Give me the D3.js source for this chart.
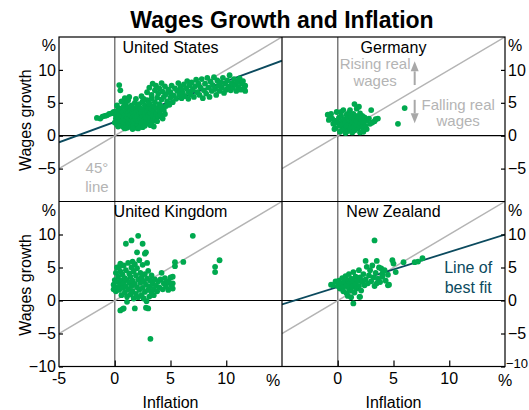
<!DOCTYPE html>
<html>
<head>
<meta charset="utf-8">
<script src="https://cdn.jsdelivr.net/npm/d3@7"></script>
<style>
  body { margin: 0; background: #fff; }
  svg { display: block; font-family: "Liberation Sans", Arial, Helvetica, sans-serif; }
</style>
</head>
<body>
<svg id="chart" width="529" height="410"></svg>
<script>
// ---- Data ----------------------------------------------------------------
const panelNames = ["United States", "Germany", "United Kingdom", "New Zealand"];

// [inflation %, wages growth %]
const usPoints = [
  [-1.6,2.7],[-1.3,2.6],[-1.1,2.9],[-0.9,3.0],[-0.7,3.1],[-0.5,3.3],[-0.3,3.4],[-0.1,3.6],[0.1,3.7],[0.3,3.9],
  [0.4,7.7],[0.5,6.9],[0.9,5.7],[1.2,5.4],
  [0.0,2.0],[0.1,2.6],[0.1,3.1],[0.2,1.7],[0.3,2.3],[0.3,2.9],[0.4,3.4],[0.5,1.9],[0.5,2.6],[0.5,4.1],
  [0.6,1.5],[0.6,3.0],[0.7,2.2],[0.7,3.6],[0.8,1.3],[0.8,2.7],[0.8,4.4],[0.9,2.0],[0.9,3.2],[1.0,1.6],[1.0,2.5],[1.0,3.8],[1.0,4.9],
  [1.1,1.2],[1.1,2.9],[1.2,2.1],[1.2,3.4],[1.2,4.3],[1.3,1.5],[1.3,2.6],[1.4,3.9],[1.4,1.9],[1.4,3.1],[1.5,2.4],[1.5,4.6],[1.5,1.3],
  [1.6,2.8],[1.6,3.6],[1.7,1.6],[1.7,2.2],[1.7,4.1],[1.8,3.0],[1.8,1.2],[1.8,5.0],[1.9,2.5],[1.9,3.5],[2.0,1.8],[2.0,4.4],[2.0,2.9],
  [2.1,2.2],[2.1,3.8],[2.2,1.4],[2.2,3.2],[2.2,4.8],[2.3,2.6],[2.3,4.1],[2.4,1.9],[2.4,3.5],[2.5,2.9],[2.5,5.2],[2.5,1.3],
  [2.6,2.3],[2.6,4.0],[2.7,3.3],[2.7,4.6],[2.8,1.8],[2.8,2.8],[2.9,3.8],[2.9,5.4],[3.0,2.4],[3.0,4.3],[3.0,3.1],
  [3.1,1.9],[3.1,4.9],[3.2,3.5],[3.2,2.7],[3.3,4.1],[3.3,5.6],[3.4,3.0],[3.4,2.2],[3.5,1.4],[3.5,4.5],[3.5,3.7],
  [3.6,2.6],[3.6,5.1],[3.7,3.3],[3.8,4.2],[3.8,5.8],[3.9,2.9],[4.0,3.8],[4.0,4.8],[4.1,3.2],[4.2,4.4],[4.2,5.5],
  [0.3,1.4],[0.9,1.1],[1.6,1.0],[2.1,1.1],[2.7,1.5],[3.2,1.6],[3.8,2.2],[4.3,2.6],[4.5,3.3],[0.2,4.6],[0.6,5.2],
  [1.9,5.6],[2.4,6.0],[1.3,5.9],[2.6,5.6],
  [2.9,6.6],[3.1,7.3],[3.3,6.2],[3.4,7.9],[3.6,6.9],[3.7,7.6],[3.9,6.4],[4.0,7.2],[4.2,8.0],[4.3,6.7],[4.5,7.5],
  [4.4,3.9],[4.4,5.9],[4.6,4.5],[4.6,6.3],[4.7,5.2],[4.8,7.0],[4.9,4.7],[5.0,5.8],[5.0,6.6],[5.1,7.6],[5.2,5.1],[5.3,6.1],
  [5.4,7.2],[5.5,5.6],[5.6,6.8],[5.7,8.0],[5.8,6.2],[5.9,7.4],[6.0,5.7],[6.0,7.0],
  [6.1,6.5],[6.2,7.8],[6.3,6.0],[6.4,7.2],[6.5,8.3],[6.6,6.7],[6.6,5.6],[6.7,7.6],[6.8,6.3],[6.9,8.1],[7.0,7.0],
  [7.1,5.9],[7.2,7.5],[7.3,8.5],[7.4,6.6],[7.5,7.9],[7.6,6.2],[7.7,7.3],[7.8,8.6],[7.9,5.7],[8.0,6.9],
  [8.1,7.9],[8.2,6.4],[8.3,8.8],[8.4,7.3],[8.5,5.9],[8.6,8.2],[8.7,6.8],[8.8,7.7],[8.9,8.9],[9.0,7.1],
  [9.1,6.2],[9.2,8.4],[9.3,7.6],[9.4,6.8],[9.5,8.1],[9.6,7.3],[9.7,8.8],[9.8,6.5],[9.9,7.9],[10.0,7.0],
  [10.1,8.4],[10.2,7.5],[10.3,9.2],[10.4,6.9],[10.5,8.0],[10.6,7.3],[10.7,8.6],[10.8,7.8],[10.9,6.8],
  [11.0,8.2],[11.1,7.4],[11.2,8.7],[11.3,7.0],[11.4,7.9],[11.5,8.3],[11.6,7.2],[11.7,7.6],[11.7,6.8]
];

const dePoints = [
  [-0.9,3.2],[-0.7,2.9],[-0.6,3.3],[-0.5,2.6],[-0.4,1.8],[-0.3,2.3],[-0.2,1.2],[-0.1,3.6],[0.0,2.0],[0.1,2.7],
  [0.2,0.6],[0.2,1.5],[0.3,3.0],[0.4,2.2],[0.4,0.9],[0.5,1.7],[0.5,3.9],[0.6,2.5],[0.6,1.1],[0.7,0.4],
  [0.7,2.0],[0.8,3.2],[0.8,1.4],[0.9,2.7],[0.9,0.7],[1.0,1.9],[1.0,3.5],[1.1,2.3],[1.1,1.0],[1.2,2.9],
  [1.2,1.6],[1.3,0.5],[1.3,2.1],[1.4,3.3],[1.4,1.3],[1.5,4.8],[1.5,2.5],[1.5,0.8],[1.6,1.8],[1.6,3.0],
  [1.7,2.2],[1.7,4.1],[1.8,1.1],[1.8,2.7],[1.9,4.4],[1.9,1.6],[2.0,2.0],[2.0,0.5],[2.0,3.4],[2.1,2.5],
  [2.2,1.3],[2.2,3.0],[2.3,0.6],[2.3,2.0],[2.4,2.8],[2.5,1.5],[2.6,2.3],[2.8,2.6],[3.0,3.9],[3.1,2.0],
  [3.4,2.5],[3.6,2.6],[5.4,1.8],[6.0,4.2],
  [-0.3,1.0],[0.3,3.6],[1.1,3.9],[2.6,1.0],[2.9,1.8],[3.3,2.2],[-0.8,2.4]
];

const ukPoints = [
  [2.1,9.8],[1.5,9.1],[1.0,8.6],[2.5,8.6],[2.0,7.3],[2.7,7.1],[2.8,7.3],[7.0,9.8],[9.4,6.1],[9.0,5.1],
  [9.0,4.3],[6.15,5.85],[5.4,5.8],[5.4,5.2],[5.2,3.6],[5.2,2.6],[5.2,1.8],[4.2,4.2],[0.5,-1.5],[0.7,-1.3],
  [0.8,-1.2],[1.8,-1.2],[2.8,-1.1],[3.0,-1.2],[1.1,-0.2],[2.85,-0.1],[3.2,-5.8],
  [-0.1,1.7],[-0.1,2.4],[0.0,3.1],[0.1,4.2],[0.1,1.4],[0.2,2.0],[0.3,2.8],[0.3,3.6],[0.4,1.6],[0.4,5.1],
  [0.5,2.3],[0.5,4.4],[0.6,3.0],[0.6,0.8],[0.7,1.9],[0.7,3.9],[0.8,5.3],[0.8,2.6],[0.9,1.2],[0.9,3.4],
  [1.0,4.6],[1.0,2.1],[1.1,0.6],[1.1,3.1],[1.2,5.7],[1.2,1.7],[1.3,2.7],[1.3,4.1],[1.4,0.9],[1.4,3.6],
  [1.5,2.2],[1.5,5.0],[1.6,1.4],[1.6,3.0],[1.7,4.4],[1.7,0.3],[1.8,2.5],[1.8,5.5],[1.9,3.8],[1.9,1.0],
  [2.0,2.0],[2.0,4.9],[2.1,3.2],[2.1,0.5],[2.2,1.6],[2.2,6.1],[2.3,2.7],[2.3,4.2],[2.4,0.8],[2.4,3.5],
  [2.5,1.9],[2.5,5.4],[2.6,2.9],[2.6,0.3],[2.7,4.0],[2.7,1.3],[2.8,2.4],[2.9,5.7],[2.9,3.3],[3.0,1.6],
  [3.0,4.5],[3.1,2.1],[3.1,0.6],[3.2,3.0],[3.3,1.2],[3.3,3.8],[3.4,2.5],[3.5,0.8],[3.5,1.7],[3.6,3.2],
  [3.7,2.3],[3.8,1.4],[3.9,2.9],[4.0,2.0],[4.1,3.2],[4.3,1.7],[4.4,2.6],[4.5,3.4],[4.6,2.1],[4.7,2.9],
  [4.8,1.6],[4.9,2.7],[5.0,3.5],[5.1,2.2],[0.2,5.0],[0.5,5.6],[1.6,5.9]
];

const nzPoints = [
  [3.3,9.1],[7.6,6.4],[7.2,5.9],[6.9,5.8],[5.9,5.8],[5.2,4.3],[4.9,6.1],[5.0,5.6],[4.6,2.4],[1.4,-0.45],
  [2.0,0.55],[0.9,0.7],[1.2,0.5],[-0.6,2.4],[-0.45,2.3],[2.5,6.0],[3.5,6.0],[3.9,4.85],[4.0,4.1],[4.5,2.3],
  [3.5,2.6],[1.95,0.55],
  [-0.2,2.9],[0.0,2.2],[0.1,3.0],[0.2,1.8],[0.3,2.6],[0.4,3.4],[0.5,2.0],[0.5,1.4],[0.6,2.8],[0.7,3.7],
  [0.8,2.3],[0.8,1.1],[0.9,3.1],[1.0,1.8],[1.0,4.0],[1.1,2.6],[1.2,3.3],[1.2,1.5],[1.3,2.1],[1.4,4.3],
  [1.4,2.9],[1.5,1.2],[1.6,3.6],[1.6,2.4],[1.7,1.8],[1.8,3.0],[1.9,4.6],[1.9,2.2],[2.0,3.5],[2.1,1.5],
  [2.2,2.8],[2.3,4.0],[2.4,2.3],[2.5,3.2],[2.6,5.1],[2.7,2.6],[2.8,3.8],[2.9,4.6],[3.0,2.9],[3.1,5.3],
  [3.2,3.5],[3.3,2.2],[3.4,4.2],[3.6,3.3],[3.7,5.0],[3.8,2.8],[4.0,3.6],[4.2,4.6],[4.3,3.0],[4.5,3.9]
];

// Lines of best fit: [intercept, slope]
const usFit = [2.1, 0.62];
const nzFit = [2.05, 0.53];

// Axis ticks
const xDomain = [-5, 15];
const yDomain = [-10, 15];
const xTicks = [0, 5, 10];
const xTickLabels = [-5, 0, 5, 10];
const yTicksTop = [-5, 0, 5, 10];
const yTicksBottom = [-10, -5, 0, 5, 10];

// ---- Layout --------------------------------------------------------------
const svg = d3.select("#chart");
const colX = [[59, 282], [282, 505]];
const rowY = [[37, 201.5], [201.5, 366.5]];

const green = "#00a94f";
const teal = "#0b4a5e";
const lightGrey = "#b4b4b4";

svg.append("text")
  .attr("x", 282).attr("y", 28)
  .attr("text-anchor", "middle")
  .attr("font-size", 23).attr("font-weight", "bold")
  .text("Wages Growth and Inflation");

const panels = [
  { name: panelNames[0], pts: usPoints, fit: usFit },
  { name: panelNames[1], pts: dePoints, fit: null },
  { name: panelNames[2], pts: ukPoints, fit: null },
  { name: panelNames[3], pts: nzPoints, fit: nzFit }
];

const scales = [];

panels.forEach((p, i) => {
  const col = i % 2, row = Math.floor(i / 2);
  const x = d3.scaleLinear().domain(xDomain).range(colX[col]);
  const y = d3.scaleLinear().domain(yDomain).range([rowY[row][1], rowY[row][0]]);
  scales.push({ x, y });

  const clipId = "clip" + i;
  svg.append("clipPath").attr("id", clipId)
    .append("rect")
    .attr("x", colX[col][0]).attr("y", rowY[row][0])
    .attr("width", colX[col][1] - colX[col][0])
    .attr("height", rowY[row][1] - rowY[row][0]);

  const g = svg.append("g").attr("clip-path", `url(#${clipId})`);

  // zero lines
  g.append("line")
    .attr("x1", x(0)).attr("x2", x(0))
    .attr("y1", y(yDomain[0])).attr("y2", y(yDomain[1]))
    .attr("stroke", "#7a7a7a").attr("stroke-width", 1.5);
  g.append("line")
    .attr("x1", x(xDomain[0])).attr("x2", x(xDomain[1]))
    .attr("y1", y(0)).attr("y2", y(0))
    .attr("stroke", "#000").attr("stroke-width", 1.2);

  // 45-degree line
  g.append("line")
    .attr("x1", x(xDomain[0])).attr("y1", y(xDomain[0]))
    .attr("x2", x(xDomain[1])).attr("y2", y(xDomain[1]))
    .attr("stroke", lightGrey).attr("stroke-width", 1.5);

  // line of best fit
  if (p.fit) {
    const line = d3.line().x(d => x(d)).y(d => y(p.fit[0] + p.fit[1] * d));
    g.append("path").datum(xDomain)
      .attr("d", line)
      .attr("fill", "none").attr("stroke", teal).attr("stroke-width", 1.8);
  }

  // observations
  g.selectAll("circle.pt").data(p.pts).join("circle")
    .attr("class", "pt")
    .attr("cx", d => x(d[0])).attr("cy", d => y(d[1]))
    .attr("r", 2.9).attr("fill", green);

  // panel title
  svg.append("text")
    .attr("x", (colX[col][0] + colX[col][1]) / 2)
    .attr("y", rowY[row][0] + 15.7)
    .attr("text-anchor", "middle")
    .attr("font-size", 16)
    .text(p.name);

  // y axis (ticks point inward)
  const yt = row === 0 ? yTicksTop : yTicksBottom;
  const yAxis = (col === 0 ? d3.axisLeft(y) : d3.axisRight(y))
    .tickValues(yt).tickSize(-4).tickPadding(3).tickFormat(d3.format("d"));
  const ya = svg.append("g")
    .attr("transform", `translate(${col === 0 ? colX[0][0] : colX[1][1]},0)`)
    .call(yAxis);
  ya.attr("font-family", null).attr("font-size", null);
  ya.select(".domain").remove();
  ya.selectAll("line").attr("stroke", "#000").attr("stroke-width", 1.2);
  const edgeLabel = d => col === 1 && d === -10;
  ya.selectAll("text").attr("fill", "#000")
    .style("font-size", d => edgeLabel(d) ? "13px" : "16px")
    .attr("x", d => edgeLabel(d) ? 1 : (col === 0 ? -3 : 3))
    .attr("dy", d => edgeLabel(d) ? "0.1em" : "0.32em");

  // "%" unit at the top of each y axis
  svg.append("text")
    .attr("x", col === 0 ? colX[0][0] - 3 : colX[1][1] + 3)
    .attr("y", y(yDomain[1]) + 9)
    .attr("dy", "0.32em")
    .attr("text-anchor", col === 0 ? "end" : "start")
    .attr("font-size", 16)
    .text("%");

  // x axis on the bottom row
  if (row === 1) {
    const xAxis = d3.axisBottom(x).tickValues(xTicks).tickSize(-6).tickFormat("");
    const xa = svg.append("g").attr("transform", `translate(0,${rowY[1][1]})`).call(xAxis);
    xa.select(".domain").remove();
    xa.selectAll("line").attr("stroke", "#000").attr("stroke-width", 1.2);

    const labs = col === 0 ? xTickLabels : xTickLabels.slice(1);
    svg.append("g").selectAll("text").data(labs).join("text")
      .attr("x", d => x(d)).attr("y", 378.5).attr("dy", "0.35em")
      .attr("text-anchor", "middle").attr("font-size", 16)
      .text(d => d);
    svg.append("text")
      .attr("x", col === 0 ? x(xDomain[1]) - 9 : x(xDomain[1]))
      .attr("y", 380).attr("dy", "0.35em")
      .attr("text-anchor", "middle").attr("font-size", 16)
      .text("%");

    svg.append("text")
      .attr("x", (colX[col][0] + colX[col][1]) / 2)
      .attr("y", 402).attr("dy", "0.35em")
      .attr("text-anchor", "middle").attr("font-size", 16)
      .text("Inflation");
  }

  if (col === 0) {
    svg.append("text")
      .attr("transform", `translate(25,${(rowY[row][0] + rowY[row][1]) / 2 + 1}) rotate(-90)`)
      .attr("dy", "0.35em")
      .attr("text-anchor", "middle").attr("font-size", 16)
      .text("Wages growth");
  }
});

// frame and panel dividers
svg.append("rect")
  .attr("x", colX[0][0]).attr("y", rowY[0][0])
  .attr("width", colX[1][1] - colX[0][0]).attr("height", rowY[1][1] - rowY[0][0])
  .attr("fill", "none").attr("stroke", "#000").attr("stroke-width", 1.2);
svg.append("line")
  .attr("x1", colX[0][1]).attr("x2", colX[0][1])
  .attr("y1", rowY[0][0]).attr("y2", rowY[1][1])
  .attr("stroke", "#000").attr("stroke-width", 1.2);
svg.append("line")
  .attr("x1", colX[0][0]).attr("x2", colX[1][1])
  .attr("y1", rowY[0][1]).attr("y2", rowY[0][1])
  .attr("stroke", "#000").attr("stroke-width", 1.2);

// ---- Annotations -----------------------------------------------------------
const us = scales[0], de = scales[1], nz = scales[3];

function textLines(sc, cx, lines, color, size) {
  lines.forEach(([label, yv]) => {
    svg.append("text")
      .attr("x", sc.x(cx)).attr("y", sc.y(yv))
      .attr("text-anchor", "middle")
      .attr("font-size", size).attr("fill", color)
      .text(label);
  });
}

textLines(us, -1.6, [["45°", -5.6], ["line", -8.5]], lightGrey, 15);
textLines(de, 3.35, [["Rising real", 10.1], ["wages", 7.5]], lightGrey, 15);
textLines(de, 10.8, [["Falling real", 3.9], ["wages", 1.4]], lightGrey, 15);
textLines(nz, 11.7, [["Line of", 4.2], ["best fit", 1.2]], teal, 16);

// arrows for real wages
function arrow(sc, xv, y0, y1) {
  const px = sc.x(xv), p0 = sc.y(y0), p1 = sc.y(y1);
  const dir = p1 < p0 ? -1 : 1;
  const headLen = 10, headW = 4;
  svg.append("line")
    .attr("x1", px).attr("x2", px)
    .attr("y1", p0).attr("y2", p1 - dir * headLen)
    .attr("stroke", "#a8a8a8").attr("stroke-width", 2);
  svg.append("path")
    .attr("d", `M${px - headW},${p1 - dir * headLen} L${px + headW},${p1 - dir * headLen} L${px},${p1} Z`)
    .attr("fill", "#a8a8a8");
}
arrow(de, 6.9, 7.7, 11.3);
arrow(de, 6.9, 5.45, 1.9);
</script>
</body>
</html>
